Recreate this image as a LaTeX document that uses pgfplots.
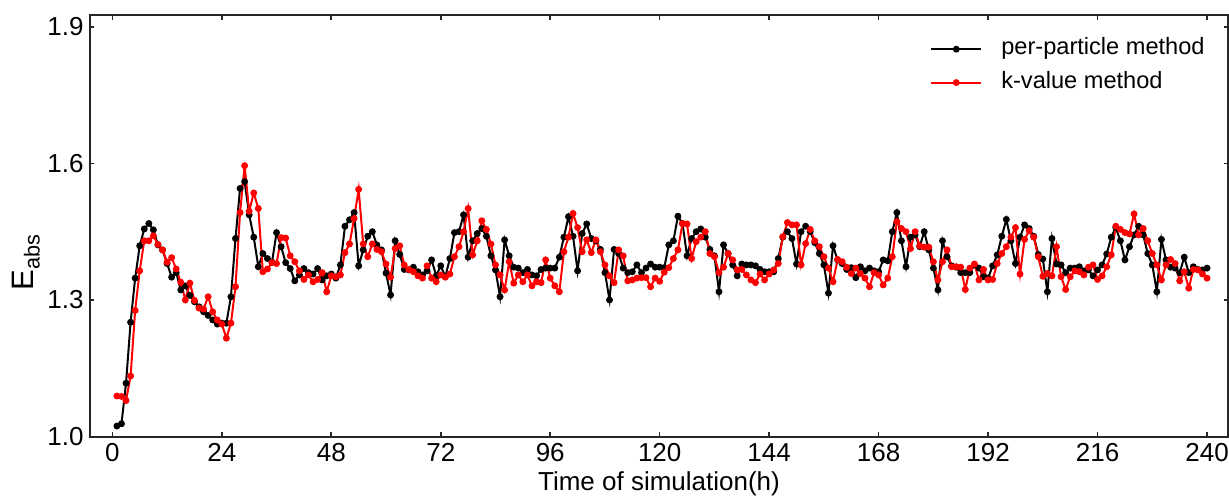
\documentclass[border=0pt]{standalone}
\usepackage{pgfplots}
\pgfplotsset{compat=1.18}
\usepackage{pgfplotstable}
\usepackage{fontspec}
\setmainfont{Liberation Sans}

\pgfplotstableread{
h pp kv
1 1.023 1.089
2 1.028 1.088
3 1.117 1.079
4 1.251 1.133
5 1.348 1.277
6 1.419 1.364
7 1.456 1.430
8 1.468 1.430
9 1.454 1.441
10 1.421 1.422
11 1.410 1.410
12 1.380 1.383
13 1.350 1.393
14 1.360 1.368
15 1.322 1.339
16 1.331 1.300
17 1.310 1.337
18 1.296 1.299
19 1.285 1.282
20 1.274 1.280
21 1.266 1.307
22 1.256 1.274
23 1.247 1.256
24 1.249 1.247
25 1.249 1.216
26 1.307 1.249
27 1.435 1.329
28 1.545 1.492
29 1.560 1.595
30 1.487 1.495
31 1.438 1.535
32 1.373 1.501
33 1.402 1.362
34 1.391 1.368
35 1.383 1.382
36 1.448 1.380
37 1.417 1.437
38 1.382 1.436
39 1.369 1.397
40 1.342 1.384
41 1.355 1.364
42 1.369 1.345
43 1.360 1.355
44 1.357 1.340
45 1.369 1.345
46 1.344 1.360
47 1.353 1.318
48 1.357 1.353
49 1.348 1.351
50 1.377 1.355
51 1.462 1.404
52 1.476 1.423
53 1.492 1.479
54 1.375 1.543
55 1.410 1.423
56 1.440 1.395
57 1.450 1.423
58 1.421 1.411
59 1.410 1.406
60 1.359 1.379
61 1.311 1.350
62 1.430 1.413
63 1.400 1.419
64 1.367 1.377
65 1.366 1.367
66 1.372 1.362
67 1.362 1.353
68 1.355 1.348
69 1.364 1.375
70 1.388 1.348
71 1.353 1.340
72 1.375 1.355
73 1.351 1.350
74 1.391 1.357
75 1.448 1.395
76 1.450 1.417
77 1.487 1.450
78 1.394 1.501
79 1.430 1.399
80 1.446 1.430
81 1.457 1.474
82 1.440 1.455
83 1.397 1.423
84 1.366 1.377
85 1.307 1.355
86 1.432 1.322
87 1.397 1.384
88 1.372 1.337
89 1.370 1.355
90 1.360 1.340
91 1.367 1.355
92 1.355 1.331
93 1.353 1.340
94 1.367 1.338
95 1.370 1.388
96 1.370 1.348
97 1.370 1.331
98 1.394 1.318
99 1.438 1.406
100 1.483 1.438
101 1.440 1.490
102 1.364 1.459
103 1.446 1.406
104 1.467 1.432
105 1.435 1.404
106 1.430 1.432
107 1.411 1.406
108 1.360 1.377
109 1.300 1.353
110 1.411 1.338
111 1.402 1.410
112 1.370 1.397
113 1.360 1.342
114 1.362 1.344
115 1.377 1.348
116 1.360 1.349
117 1.370 1.349
118 1.379 1.329
119 1.372 1.348
120 1.372 1.341
121 1.371 1.361
122 1.421 1.371
123 1.430 1.391
124 1.484 1.410
125 1.468 1.468
126 1.397 1.467
127 1.435 1.391
128 1.450 1.428
129 1.456 1.438
130 1.438 1.450
131 1.411 1.402
132 1.397 1.395
133 1.318 1.360
134 1.421 1.372
135 1.402 1.402
136 1.377 1.388
137 1.353 1.366
138 1.379 1.367
139 1.377 1.355
140 1.377 1.344
141 1.375 1.338
142 1.367 1.357
143 1.362 1.344
144 1.362 1.357
145 1.362 1.366
146 1.391 1.380
147 1.438 1.439
148 1.450 1.470
149 1.435 1.465
150 1.379 1.465
151 1.450 1.377
152 1.462 1.424
153 1.450 1.455
154 1.426 1.430
155 1.402 1.417
156 1.377 1.395
157 1.315 1.370
158 1.419 1.340
159 1.388 1.389
160 1.380 1.384
161 1.367 1.372
162 1.371 1.358
163 1.349 1.370
164 1.373 1.358
165 1.364 1.348
166 1.370 1.329
167 1.364 1.360
168 1.362 1.355
169 1.388 1.333
170 1.386 1.348
171 1.450 1.395
172 1.492 1.472
173 1.430 1.457
174 1.373 1.450
175 1.438 1.413
176 1.443 1.450
177 1.417 1.419
178 1.450 1.416
179 1.410 1.416
180 1.370 1.384
181 1.322 1.344
182 1.430 1.384
183 1.395 1.410
184 1.375 1.373
185 1.372 1.373
186 1.360 1.372
187 1.360 1.323
188 1.360 1.370
189 1.377 1.379
190 1.370 1.344
191 1.351 1.367
192 1.348 1.344
193 1.375 1.345
194 1.399 1.380
195 1.440 1.402
196 1.477 1.417
197 1.430 1.438
198 1.380 1.459
199 1.438 1.357
200 1.465 1.433
201 1.457 1.452
202 1.440 1.438
203 1.400 1.395
204 1.390 1.352
205 1.318 1.358
206 1.435 1.353
207 1.379 1.417
208 1.377 1.351
209 1.360 1.323
210 1.370 1.351
211 1.370 1.364
212 1.373 1.362
213 1.364 1.355
214 1.366 1.372
215 1.353 1.377
216 1.366 1.345
217 1.377 1.353
218 1.401 1.373
219 1.438 1.399
220 1.459 1.462
221 1.430 1.455
222 1.388 1.448
223 1.417 1.445
224 1.443 1.489
225 1.462 1.443
226 1.443 1.457
227 1.402 1.430
228 1.377 1.402
229 1.318 1.377
230 1.433 1.344
231 1.388 1.377
232 1.372 1.389
233 1.370 1.380
234 1.360 1.342
235 1.394 1.362
236 1.360 1.326
237 1.373 1.367
238 1.367 1.366
239 1.366 1.357
240 1.370 1.348
}\datatable

\begin{document}
\begin{tikzpicture}
\begin{axis}[
  scale only axis,
  width=569pt, height=210.5pt,
  xmin=-4.9, xmax=244.6, ymin=1.0, ymax=1.925,
  xtick={0,24,...,240},
  ytick={1.0,1.3,1.6,1.9},
  tick align=inside, tick pos=both,
  major tick length=2.2pt,
  axis line style={line width=1pt, black!85},
  every tick/.style={black!85, line width=0.8pt},
  /pgf/number format/assume math mode=true,
  ticklabel style={font=\fontsize{13}{13}\selectfont},
  yticklabel style={/pgf/number format/fixed, /pgf/number format/fixed zerofill, /pgf/number format/precision=1, anchor=east, inner xsep=0pt, xshift=-3pt},
  xticklabel style={anchor=base, yshift=-12.5pt},
  xlabel={Time of simulation(h)},
  xlabel style={font=\fontsize{13}{13}\selectfont, at={(axis description cs:0.5,-0.128)}, anchor=base},
  ylabel={E\textsubscript{abs}},
  ylabel style={font=\fontsize{15.5}{15.5}\selectfont, at={(axis description cs:-0.0562,0.414)}, anchor=center},
  legend style={draw=none, fill=none, at={(axis description cs:1,1)}, anchor=north east, xshift=-11.5pt, yshift=-11.4pt, inner sep=0pt, row sep=6.2pt, column sep=9.5pt, font=\fontsize{11.8}{11.8}\selectfont, nodes={text height=8pt, text depth=2.5pt, inner sep=0pt}},
  legend cell align=left,
  legend image code/.code={\draw[mark repeat=2,mark phase=2] plot coordinates {(0pt,0pt) (12.5pt,0pt) (25pt,0pt)};},
]
\addplot[black, line width=1pt, mark=*, mark size=1.2pt] table[x=h, y=pp] {\datatable};
\addlegendentry{per-particle method}
\addplot[red, line width=1pt, mark=*, mark size=1.2pt] table[x=h, y=kv] {\datatable};
\addlegendentry{k-value method}
\coordinate (sw) at (rel axis cs:0,0);
\coordinate (ne) at (rel axis cs:1,1);
\end{axis}
\pgfresetboundingbox
\path ([shift={(-45pt,-31.25pt)}]sw) rectangle ([shift={(0.5pt,7.75pt)}]ne);
\end{tikzpicture}
\end{document}
